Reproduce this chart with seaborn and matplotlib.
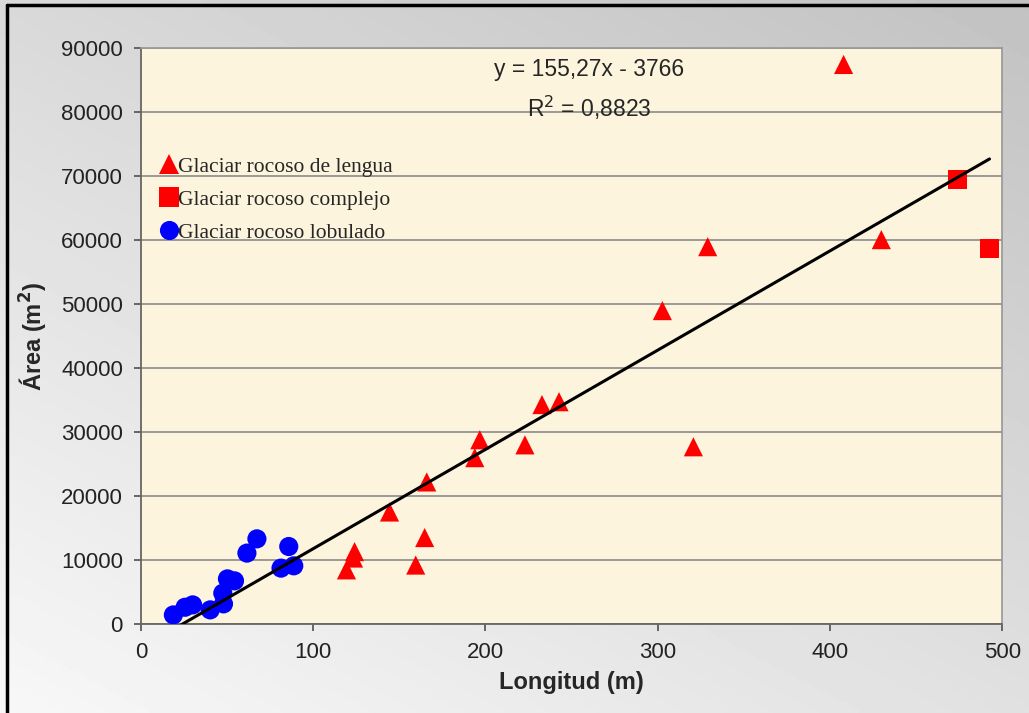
import numpy as np
import pandas as pd
import matplotlib
matplotlib.use("Agg")
import matplotlib.pyplot as plt
from matplotlib.lines import Line2D
import seaborn as sns

# datos
lengua_x = [407.9, 320.7, 329, 429.8, 302.7, 242.7, 232.8, 222.9, 196.7, 193.8,
            165.9, 164.7, 144.3, 124, 123.4, 119.3, 159.5]
lengua_y = [87500, 27700, 59000, 60100, 49000, 34750, 34300, 28000, 28800, 26000,
            22200, 13500, 17500, 11300, 10300, 8450, 9200]
complejo_x = [474.2, 492.6]
complejo_y = [69500, 58650]
lobulado_x = [18.8, 25.6, 30, 40.2, 47.9, 47.5, 50.2, 54.3, 61.5, 67.3, 85.8, 81.3, 88.7]
lobulado_y = [1400, 2600, 2970, 2190, 3130, 4800, 7040, 6730, 11070, 13300, 12100, 8720, 9080]

labels = ["Glaciar rocoso de lengua", "Glaciar rocoso complejo", "Glaciar rocoso lobulado"]
slope, intercept = 155.27, -3766
eq_text = "y = 155,27x - 3766"
r2_text = "R$^2$ = 0,8823"

df = pd.DataFrame({
    "x": lengua_x + complejo_x + lobulado_x,
    "y": lengua_y + complejo_y + lobulado_y,
    "tipo": [labels[0]] * len(lengua_x) + [labels[1]] * len(complejo_x) + [labels[2]] * len(lobulado_x),
})

sns.set_theme(style="white")
plt.rcParams['font.family'] = ['Liberation Sans', 'DejaVu Sans']

fig = plt.figure(figsize=(10.29, 7.13), dpi=100)

# fondo degradado gris
bg = fig.add_axes([0, 0, 1, 1], zorder=-10)
gx, gy = np.meshgrid(np.linspace(0, 1, 200), np.linspace(0, 1, 200))
grad = 0.97 - 0.12 * gy - 0.09 * gx
bg.imshow(grad, cmap="gray", vmin=0, vmax=1, aspect="auto", origin="lower",
          extent=[0, 1, 0, 1])
bg.axis("off")
fig.lines.append(Line2D([0.007, 0.007], [0.0, 0.993], transform=fig.transFigure,
                        color="black", lw=2.5))
fig.lines.append(Line2D([0.007, 1.0], [0.993, 0.993], transform=fig.transFigure,
                        color="black", lw=2.5))

ax = fig.add_axes([0.137, 0.125, 0.837, 0.807])
ax.set_facecolor("#FCF4DC")

sns.scatterplot(data=df, x="x", y="y", hue="tipo", style="tipo",
                palette={labels[0]: "#FF0000", labels[1]: "#FF0000", labels[2]: "#0000FF"},
                markers={labels[0]: "^", labels[1]: "s", labels[2]: "o"},
                s=190, linewidth=0, ax=ax, zorder=3)

# línea de tendencia
xs = np.array([min(df["x"]), max(df["x"])])
ax.plot(xs, slope * xs + intercept, color="black", lw=2.2, zorder=4)

ax.set_xlim(0, 500)
ax.set_ylim(0, 90000)
ax.set_xticks(range(0, 501, 100))
ax.set_yticks(range(0, 90001, 10000))
ax.yaxis.grid(True, color="#8a8a8a", lw=1.2)
ax.set_axisbelow(True)
ax.tick_params(axis="both", labelsize=16, length=5, direction="out", color="#555555",
               labelcolor="#222222", bottom=True, left=True, pad=8)
for s in ["top", "right"]:
    ax.spines[s].set_color("#999999")
for s in ["left", "bottom"]:
    ax.spines[s].set_color("#666666")
    ax.spines[s].set_linewidth(1.3)

ax.set_xlabel("Longitud (m)", fontsize=17, fontweight="bold", labelpad=6)
ax.set_ylabel("Área (m$^\\mathbf{2}$)", fontsize=17, fontweight="bold", labelpad=8)

ax.text(0.52, 0.983, eq_text, transform=ax.transAxes, ha="center", va="top", fontsize=16.5)
ax.text(0.52, 0.922, r2_text, transform=ax.transAxes, ha="center", va="top", fontsize=16.5)

leg = ax.legend(loc="upper left", bbox_to_anchor=(0.012, 0.827), frameon=False,
                handletextpad=0.05, handlelength=0.8, labelspacing=0.6, borderaxespad=0,
                markerscale=1.0, prop={"family": "Liberation Serif", "size": 15.5})

fig.savefig("out.png", dpi=100)
